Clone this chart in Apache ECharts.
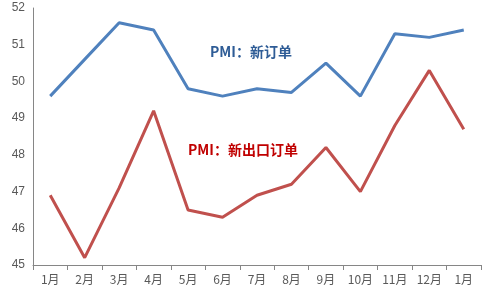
<!DOCTYPE html>
<html><head><meta charset="utf-8">
<script src="https://cdn.jsdelivr.net/npm/echarts@6/dist/echarts.min.js"></script>
<style>html,body{margin:0;padding:0;background:#fff}#c{width:491px;height:297px}</style>
</head><body><div id="c"></div>
<script>
var categories = ['1月','2月','3月','4月','5月','6月','7月','8月','9月','10月','11月','12月','1月'];
var newOrders = [49.6,50.6,51.6,51.4,49.8,49.6,49.8,49.7,50.5,49.6,51.3,51.2,51.4];
var newExportOrders = [46.9,45.2,47.1,49.2,46.5,46.3,46.9,47.2,48.2,47.0,48.8,50.3,48.7];
var yTicks = [45,52,1];
var chart = echarts.init(document.getElementById('c'));
chart.setOption({
  animation:false,
  grid:{left:33,right:10,top:8,bottom:32},
  xAxis:{type:'category',data:categories,boundaryGap:true,
    axisLine:{lineStyle:{color:'#868686',width:1}},
    axisTick:{show:true,alignWithLabel:false,length:5,lineStyle:{color:'#868686'}},
    axisLabel:{color:'#595959',fontSize:12,margin:8,fontFamily:'Noto Sans CJK SC'}},
  yAxis:{type:'value',min:yTicks[0],max:yTicks[1],interval:yTicks[2],
    axisLine:{show:true,lineStyle:{color:'#868686',width:1}},
    axisTick:{show:false},splitLine:{show:false},
    axisLabel:{color:'#595959',fontSize:12,margin:8,fontFamily:'Liberation Sans'}},
  series:[
    {type:'line',data:newOrders,symbol:'none',lineStyle:{color:'#4F81BD',width:3},z:3},
    {type:'line',data:newExportOrders,symbol:'none',lineStyle:{color:'#C0504D',width:3},z:2}
  ],
  graphic:[
    {type:'text',left:210,top:45,style:{text:'PMI：新订单',fill:'#2E5C96',font:'bold 14px "Noto Sans CJK SC"'}},
    {type:'text',left:188,top:143,style:{text:'PMI：新出口订单',fill:'#C00000',font:'bold 14px "Noto Sans CJK SC"'}}
  ]
});
</script></body></html>
